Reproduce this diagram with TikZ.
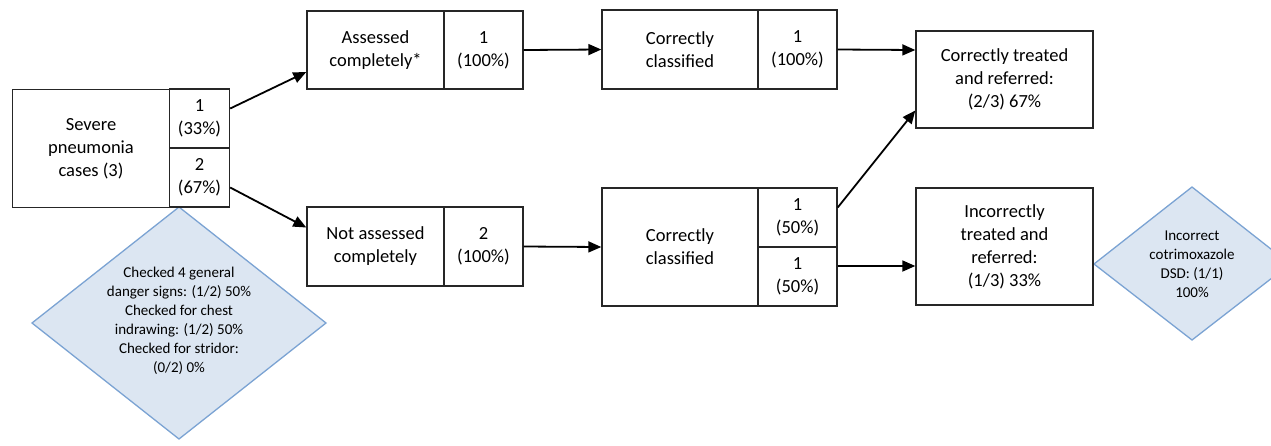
\documentclass[tikz,border=0pt]{standalone}
\usepackage{fontspec}
\setmainfont{Carlito}
\usetikzlibrary{shapes.geometric,arrows.meta,calc}
\definecolor{dfill}{HTML}{DCE6F2}
\definecolor{ddraw}{HTML}{7BA3D3}
\tikzset{
  cell/.style={draw=black!85, line width=1.4pt, rectangle, inner sep=0pt, align=center,
    font=\fontsize{18.5}{23}\selectfont},
  dia/.style={draw=ddraw, fill=dfill, line width=1.3pt},
  dtext/.style={align=center, font=\fontsize{15}{19}\selectfont},
  arr/.style={line width=1.8pt, -{Triangle[length=13pt,width=11pt]}}
}
\begin{document}
\begin{tikzpicture}[x=1pt,y=-1pt]
\useasboundingbox (0,0) rectangle (1271,445);
% left diamond
\path[dia] (179,207) -- (326,323) -- (179,439) -- (32,323) -- cycle;
\node[dtext] (dl) at (179,321) {Checked 4 general\\danger signs: (1/2) 50\%\\Checked for chest\\indrawing: (1/2) 50\%\\Checked for stridor:\\(0/2) 0\%};
% right diamond
\path[dia] (1192,187) -- (1290,264) -- (1192,340) -- (1094,264) -- cycle;
\node[dtext] (dr) at (1192,264) {Incorrect\\cotrimoxazole\\DSD: (1/1)\\100\%};
% severe
\node[cell, minimum width=157pt, minimum height=118pt] (sev) at (91,148.5) {Severe\\pneumonia\\cases (3)};
\node[cell, minimum width=60pt, minimum height=59pt] (sev1) at (199.5,118.5) {1\\(33\%)};
\node[cell, minimum width=60pt, minimum height=59pt] (sev2) at (199.5,177.5) {2\\(67\%)};
% assessed
\node[cell, minimum width=137pt, minimum height=78pt] (ac) at (375.5,50) {Assessed\\completely*};
\node[cell, minimum width=79pt, minimum height=78pt] (ac1) at (483.5,50) {1\\(100\%)};
\node[cell, minimum width=137pt, minimum height=79pt] (na) at (375.5,246.5) {Not assessed\\completely};
\node[cell, minimum width=79pt, minimum height=79pt] (na1) at (483.5,246.5) {2\\(100\%)};
% classified
\node[cell, minimum width=156pt, minimum height=79pt] (cc) at (680,49.5) {Correctly\\classified};
\node[cell, minimum width=79pt, minimum height=79pt] (cc1) at (797.5,49.5) {1\\(100\%)};
\node[cell, minimum width=156pt, minimum height=118pt] (cb) at (680,247) {Correctly\\classified};
\node[cell, minimum width=79pt, minimum height=59pt] (cb1) at (797.5,217.5) {1\\(50\%)};
\node[cell, minimum width=79pt, minimum height=59pt] (cb2) at (797.5,276.5) {1\\(50\%)};
% outcomes
\node[cell, minimum width=177pt, minimum height=97pt] (ct) at (1004.5,79.5) {Correctly treated\\and referred:\\(2/3) 67\%};
\node[cell, minimum width=177pt, minimum height=117pt] (it) at (1004.5,246.5) {Incorrectly\\treated and\\referred:\\(1/3) 33\%};
% arrows
\draw[arr] ([yshift=10pt]sev1.east) -- ([yshift=-22pt]ac.west);
\draw[arr] ([yshift=-10pt]sev2.east) -- ([yshift=19pt]na.west);
\draw[arr] (ac1.east) -- (cc.west);
\draw[arr] (na1.east) -- (cb.west);
\draw[arr] (cc1.east) -- ([yshift=29.5pt]ct.west);
\draw[arr] ([yshift=10pt]cb1.east) -- ([yshift=-31pt]ct.west);
\draw[arr] ([yshift=10.5pt]cb2.east) -- ([yshift=-19.5pt]it.west);
\end{tikzpicture}
\end{document}
